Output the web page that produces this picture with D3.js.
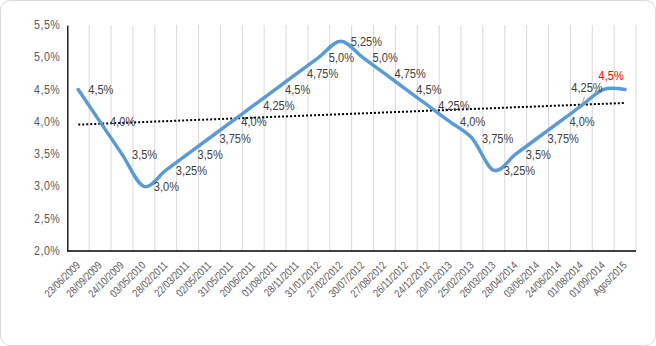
<!DOCTYPE html>
<html>
<head>
<meta charset="utf-8">
<script src="https://cdn.jsdelivr.net/npm/d3@7"></script>
<style>
  html, body { margin: 0; padding: 0; background: #fff; }
  svg { display: block; }
  text { font-family: "Liberation Sans Narrow", "Arial Narrow", "Liberation Sans", Arial, sans-serif; }
</style>
</head>
<body>
<svg id="chart" width="656" height="346"></svg>
<script>
const categories = ["23/06/2009","28/09/2009","24/10/2009","03/05/2010","28/02/2011","22/03/2011","02/05/2011","31/05/2011","20/06/2011","01/08/2011","28/11/2011","31/01/2012","27/02/2012","30/07/2012","27/08/2012","26/11/2012","24/12/2012","29/01/2013","25/02/2013","26/03/2013","28/04/2014","03/06/2014","24/06/2014","01/08/2014","01/09/2014","Agos/2015"];
const rates = [4.5,4.0,3.5,3.0,3.25,3.5,3.75,4.0,4.25,4.5,4.75,5.0,5.25,5.0,4.75,4.5,4.25,4.0,3.75,3.25,3.5,3.75,4.0,4.25,4.5,4.5];
const yTicks = [2.0,2.5,3.0,3.5,4.0,4.5,5.0,5.5];

(function () {
const svg = d3.select("#chart");
const W = 656, H = 346;
const pLeft = 67.3, pRight = 636, pTop = 25, pBottom = 251;
const NARROW = 0.82;

svg.append("rect").attr("x",0.5).attr("y",0.5).attr("width",W-1).attr("height",H-1)
  .attr("rx",10).attr("fill","#fff").attr("stroke","#d9d9d9").attr("stroke-width",1);

const x = d3.scalePoint().domain(categories).range([pLeft, pRight]).padding(0.5);
const step = x.step();
const y = d3.scaleLinear().domain([2, 5.5]).range([pBottom, pTop]);

const loc = d3.formatLocale({decimal: ",", thousands: ".", grouping: [3], currency: ["", ""]});
const f1 = loc.format(".1f"), f2 = loc.format(".2f");
const pct = v => (Math.abs(v*10 - Math.round(v*10)) < 1e-9 ? f1(v) : f2(v)) + "%";

// vertical gridlines at category boundaries
svg.append("g").selectAll("line").data(d3.range(1, categories.length + 1)).join("line")
  .attr("x1", i => pLeft + i*step).attr("x2", i => pLeft + i*step)
  .attr("y1", pTop).attr("y2", pBottom)
  .attr("stroke", "#d9d9d9").attr("stroke-width", 1);

// y axis
const yAxis = d3.axisLeft(y).tickValues(yTicks).tickSize(0).tickPadding(0).tickFormat(d => f1(d) + "%");
const gy = svg.append("g").attr("transform", `translate(${pLeft},0)`).call(yAxis);
gy.select(".domain").attr("stroke", "#000").attr("stroke-width", 1.3);
gy.selectAll("text").attr("fill", "#595959").style("font-size", "13px")
  .attr("x", null).attr("dy", null).attr("dominant-baseline", "middle")
  .attr("letter-spacing", "0.6px")
  .attr("transform", `translate(-7,0) scale(${NARROW},1)`);

// x axis
const xAxis = d3.axisBottom(x).tickSize(0).tickSizeOuter(0);
const gx = svg.append("g").attr("transform", `translate(0,${pBottom})`).call(xAxis);
gx.select(".domain").attr("stroke", "#000").attr("stroke-width", 1.3).attr("d", `M${pLeft},0H${pRight}`);
gx.selectAll("text")
  .attr("fill", "#595959").style("font-size", "11px")
  .attr("text-anchor", "end").attr("dy", null).attr("y", 0)
  .attr("transform", `translate(0,13) rotate(-45) scale(${NARROW},1)`)
  .attr("dominant-baseline", "middle");

// trend line (least squares)
const n = rates.length;
const mi = (n - 1) / 2, mv = d3.mean(rates);
let sxy = 0, sxx = 0;
rates.forEach((v, i) => { sxy += (i - mi) * (v - mv); sxx += (i - mi) * (i - mi); });
const slope = sxy / sxx, icpt = mv - slope * mi;
svg.append("line")
  .attr("x1", x(categories[0])).attr("y1", y(icpt))
  .attr("x2", x(categories[n-1])).attr("y2", y(icpt + slope*(n-1)))
  .attr("stroke", "#000").attr("stroke-width", 2).attr("stroke-dasharray", "2,2");

// smoothed series line
const line = d3.line().x((d, i) => x(categories[i])).y(d => y(d)).curve(d3.curveCardinal.tension(0));
svg.append("path").datum(rates).attr("d", line)
  .attr("fill", "none").attr("stroke", "#5b9bd5").attr("stroke-width", 3.5)
  .attr("stroke-linecap", "round").attr("stroke-linejoin", "round");

// data labels
const lg = svg.append("g").style("font-size", "13.5px");
function label(tx, ty, txt, color, anchor) {
  lg.append("text").attr("transform", `translate(${tx},${ty}) scale(${NARROW},1)`)
    .attr("dominant-baseline", "middle").attr("text-anchor", anchor || "start")
    .attr("fill", color).text(txt);
}
rates.forEach((v, i) => {
  const px = x(categories[i]), py = y(v);
  if (i === n - 1) return; // last point's label is drawn highlighted above
  if (i === 23) {
    svg.append("line").attr("x1", px + 3).attr("y1", py - 9).attr("x2", px + 1).attr("y2", py - 2)
      .attr("stroke", "#a6a6a6").attr("stroke-width", 1);
    label(px - 10, py - 17, pct(v), "#404040");
    return;
  }
  if (i === 24) {
    label(px + 8, py - 13, pct(rates[n-1]), "#ff0000", "middle");
    return;
  }
  label(px + 10, py + 1, pct(v), "#404040");
});
})();
</script>
</body>
</html>
